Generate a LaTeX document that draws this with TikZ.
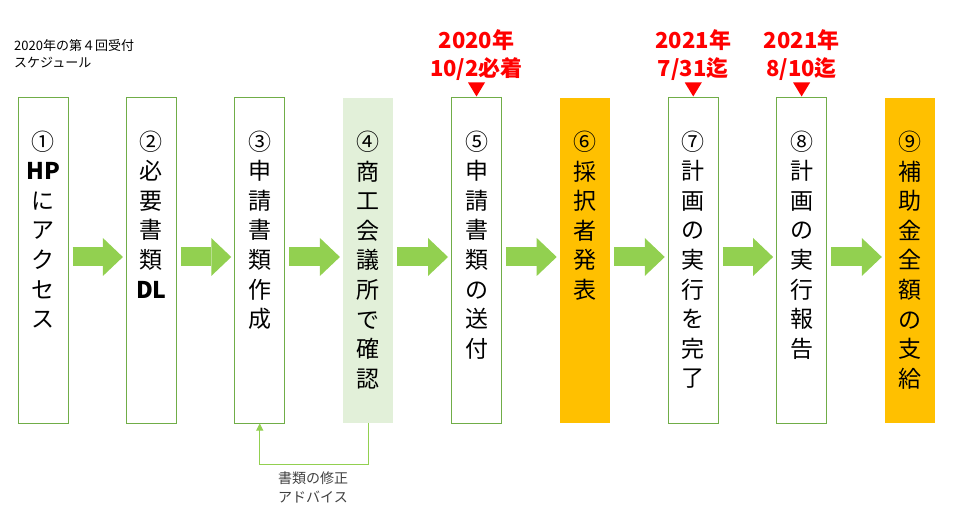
\documentclass[tikz,border=0pt]{standalone}
\usepackage{fontspec}
\setmainfont{Noto Sans CJK JP}
\usetikzlibrary{arrows.meta}
\definecolor{gborder}{HTML}{70AD47}
\definecolor{gfill}{HTML}{E2F0D9}
\definecolor{gold}{HTML}{FFC000}
\definecolor{arrowgreen}{HTML}{92D050}
\definecolor{redtext}{HTML}{FF0000}
\definecolor{labelgray}{HTML}{404040}
\tikzset{
  stepbox/.style={draw=gborder, line width=1pt, minimum width=50pt, minimum height=325pt, inner sep=0pt},
  greenbox/.style={fill=gfill, minimum width=50pt, minimum height=325pt, inner sep=0pt},
  goldbox/.style={fill=gold, minimum width=50pt, minimum height=325pt, inner sep=0pt},
  vtext/.style={anchor=north, align=center, inner sep=0pt, font=\fontsize{23}{29.6}\selectfont},
  blockarrow/.style={draw=arrowgreen, line width=19pt, -{Triangle[line width=0pt, width=38pt, length=20pt]}},
  datetext/.style={text=redtext, align=center, inner sep=0pt, font=\bfseries\fontsize{22}{28}\selectfont},
  marker/.style={fill=redtext},
  feedback/.style={draw=arrowgreen, line width=1pt, -{Triangle[width=7pt, length=7pt]}},
  notetext/.style={text=labelgray, align=center, inner sep=0pt, font=\fontsize{14}{19}\selectfont},
  titletext/.style={align=left, inner sep=0pt, font=\fontsize{13}{17}\selectfont}
}
\begin{document}
\begin{tikzpicture}[x=1pt,y=1pt]
\useasboundingbox (0,0) rectangle (957,511);
% boxes
\node[stepbox]  (b1) at (43,250.5) {};
\node[stepbox]  (b2) at (151.4,250.5) {};
\node[stepbox]  (b3) at (259.75,250.5) {};
\node[greenbox] (b4) at (368.1,250.5) {};
\node[stepbox]  (b5) at (476.5,250.5) {};
\node[goldbox]  (b6) at (584.9,250.5) {};
\node[stepbox]  (b7) at (693.25,250.5) {};
\node[stepbox]  (b8) at (801.6,250.5) {};
\node[goldbox]  (b9) at (910,250.5) {};
% vertical texts
\node[vtext] (t1) at ([yshift=-33pt]b1.north) {①\\\bfseries HP\\に\\ア\\ク\\セ\\ス};
\node[vtext] (t2) at ([yshift=-33pt]b2.north) {②\\必\\要\\書\\類\\\bfseries DL};
\node[vtext] (t3) at ([yshift=-33pt]b3.north) {③\\申\\請\\書\\類\\作\\成};
\node[vtext] (t4) at ([yshift=-33pt]b4.north) {④\\商\\工\\会\\議\\所\\で\\確\\認};
\node[vtext] (t5) at ([yshift=-33pt]b5.north) {⑤\\申\\請\\書\\類\\の\\送\\付};
\node[vtext] (t6) at ([yshift=-33pt]b6.north) {⑥\\採\\択\\者\\発\\表};
\node[vtext] (t7) at ([yshift=-33pt]b7.north) {⑦\\計\\画\\の\\実\\行\\を\\完\\了};
\node[vtext] (t8) at ([yshift=-33pt]b8.north) {⑧\\計\\画\\の\\実\\行\\報\\告};
\node[vtext] (t9) at ([yshift=-33pt]b9.north) {⑨\\補\\助\\金\\全\\額\\の\\支\\給};
% block arrows
\foreach \a/\b in {b1/b2,b2/b3,b3/b4,b4/b5,b5/b6,b6/b7,b7/b8,b8/b9}{
  \draw[blockarrow] ([shift={(4pt,3.5pt)}]\a.east) -- ([shift={(-3pt,3.5pt)}]\b.west);
}
% dates
\node[datetext] (d5) at ([yshift=42pt]b5.north) {2020年\\10/2必着};
\node[datetext] (d7) at ([yshift=42pt]b7.north) {2021年\\7/31迄};
\node[datetext] (d8) at ([yshift=42pt]b8.north) {2021年\\8/10迄};
\foreach \b in {b5,b7,b8}{
  \fill[marker] ([yshift=1pt]\b.north) -- ++(-8.5,14) -- ++(17,0) -- cycle;
}
% title
\node[titletext, anchor=west] (title) at (14,457.5) {2020年の第４回受付\\スケジュール};
% feedback
\coordinate (fb) at (368.1,47);
\draw[feedback] (b4.south) -- (fb) -| (b3.south);
\node[notetext] (note) at (313,24) {書類の修正\\アドバイス};
\end{tikzpicture}
\end{document}
